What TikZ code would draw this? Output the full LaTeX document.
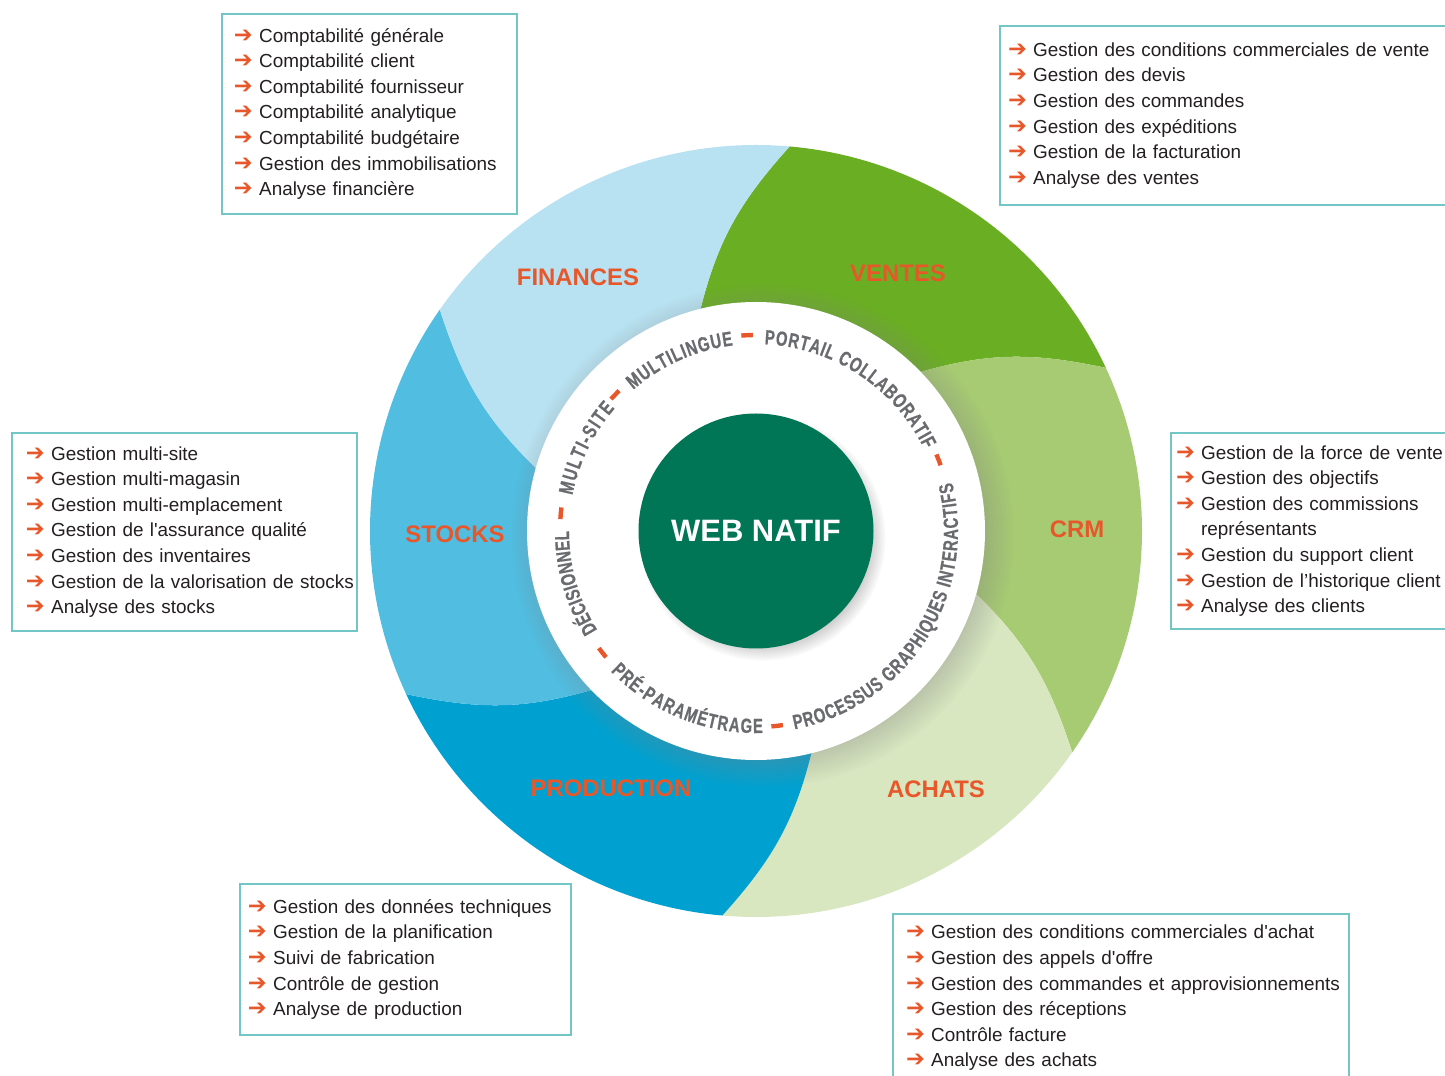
\documentclass[tikz,border=0pt]{standalone}
\usepackage{fontspec}
\setmainfont{Liberation Sans}
\newfontfamily\symfont{DejaVu Sans}
\newfontfamily\ringfont[FakeStretch=0.73, FakeBold=0.6]{Liberation Sans}
\usetikzlibrary{decorations.text,shadows,fadings}

\newlength\px
\setlength\px{0.25mm}

\definecolor{finblue}{HTML}{B8E2F2}
\definecolor{ventgreen}{HTML}{6AAE24}
\definecolor{crmgreen}{HTML}{A7CB73}
\definecolor{achgreen}{HTML}{D8E7C0}
\definecolor{prodblue}{HTML}{00A1D0}
\definecolor{stockblue}{HTML}{50BDE1}
\definecolor{webgreen}{HTML}{017657}
\definecolor{labelorange}{HTML}{E8572A}
\definecolor{ringgray}{HTML}{6A6B6E}
\definecolor{boxteal}{HTML}{72C6C5}
\definecolor{listblack}{HTML}{231F20}

\newcommand\fleche{\textcolor{labelorange}{\symfont\bfseries\fontsize{16}{16}\selectfont ➔}}
\newcommand\sq{\textquotesingle}
\newcommand\indentlist[1]{\setlength\leftskip{#1\px}}
\newcommand\ringtxt{\ringfont\bfseries\fontsize{14.5}{14.5}\selectfont}

\tikzset{
  seglabel/.style={text=labelorange, font=\bfseries\fontsize{17}{17}\selectfont},
  listbox/.style={draw=boxteal, line width=0.5mm, fill=white, anchor=north west,
    inner xsep=2\px, align=left, text=listblack,
    font=\fontsize{13.45}{18.2}\selectfont},
  ringtext/.style={decorate, decoration={text along path, text align={fit to path},
    text color=ringgray, text={|\ringtxt|#1}}},
  ringdash/.style={draw=labelorange, line width=1.1mm},
  core/.style={circle, fill=webgreen, minimum size=235\px, text=white,
    font=\bfseries\fontsize{22}{22}\selectfont}
}

\begin{document}
\begin{tikzpicture}[x=\px, y=\px]

	% ---- parameters

	\def\rout{386}
	\def\rring{229}

	\useasboundingbox (-756,-545) rectangle (689,531);
	\clip (-756,-545) rectangle (689,531);

	% ---- segments

	\foreach \k/\col in {0/ventgreen,1/crmgreen,2/achgreen,3/prodblue,4/stockblue,5/finblue} {
		\pgfmathsetmacro\ia{44-60*\k}
		\pgfmathsetmacro\ib{104-60*\k}
		\pgfmathsetmacro\oa{25-60*\k}
		\pgfmathsetmacro\ob{85-60*\k}
		\pgfmathsetmacro\ta{16-60*\k}
		\pgfmathsetmacro\tb{168-60*\k}
		\pgfmathsetmacro\tc{228-60*\k}
		\pgfmathsetmacro\td{76-60*\k}
		\fill[\col] (0,0) -- (\ia:\rring) to[out=\ta, in=\tb] (\oa:\rout)
			arc[start angle=\oa, end angle=\ob, radius=\rout]
			to[out=\tc, in=\td] (\ib:\rring) -- cycle;
	}

	% ---- segment labels

	\node[seglabel] (ventes) at (142,258) {VENTES};
	\node[seglabel] (crm) at (321,2) {CRM};
	\node[seglabel] (achats) at (180,-258) {ACHATS};
	\node[seglabel] (production) at (-145,-257) {PRODUCTION};
	\node[seglabel] (stocks) at (-301,-3) {STOCKS};
	\node[seglabel] (finances) at (-178,254) {FINANCES};

	% ---- white ring

	\fill[white, circular drop shadow={shadow xshift=1.5mm, shadow yshift=-1mm,
		shadow scale=1.1, opacity=.4}] (0,0) circle (\rring);

	% -- ring texts (clockwise, top)

	\path[ringtext=DÉCISIONNEL] (212:187) arc[start angle=212, end angle=180, radius=187];
	\path[ringtext=MULTI-SITE] (169:187) arc[start angle=169, end angle=139, radius=187];
	\path[ringtext=MULTILINGUE] (131:187) arc[start angle=131, end angle=97, radius=187];
	\path[ringtext=PORTAIL COLLABORATIF] (87.4:187) arc[start angle=87.4, end angle=25.9, radius=187];

	% -- ring texts (counter-clockwise, bottom)

	\path[ringtext=PRÉ-PARAMÉTRAGE] (224:202) arc[start angle=224, end angle=272, radius=202];
	\path[ringtext=PROCESSUS GRAPHIQUES INTERACTIFS] (281:202) arc[start angle=281, end angle=374, radius=202];

	% -- separators

	\foreach \a in {92.6,136,174.8,218.4,276.2,21.3} {
		\draw[ringdash] (\a-1.7:196) arc[start angle=\a-1.7, end angle=\a+1.7, radius=196];
	}

	% ---- core

	\node[core, circular drop shadow={shadow xshift=1.5mm, shadow yshift=-1.5mm,
		shadow scale=1.05, opacity=.45}] (webnatif) at (0,0) {WEB NATIF};

	% ---- lists

	\node[listbox, text width=291\px, minimum height=200\px] (finlist) at (-535,518)
	{\indentlist{10}\fleche~Comptabilité générale\\ \fleche~Comptabilité client\\ \fleche~Comptabilité fournisseur\\
	 \fleche~Comptabilité analytique\\ \fleche~Comptabilité budgétaire\\
	 \fleche~Gestion des immobilisations\\ \fleche~Analyse financière\par};

	\node[listbox, text width=476\px, minimum height=179\px] (ventlist) at (243,506)
	{\indentlist{6}\fleche~Gestion des conditions commerciales de vente\\ \fleche~Gestion des devis\\
	 \fleche~Gestion des commandes\\ \fleche~Gestion des expéditions\\
	 \fleche~Gestion de la facturation\\ \fleche~Analyse des ventes\par};

	\node[listbox, text width=296\px, minimum height=196\px] (crmlist) at (414,99)
	{\indentlist{3}\fleche~Gestion de la force de vente\\ \fleche~Gestion des objectifs\\
	 \fleche~Gestion des commissions\\ \hphantom{\fleche~}représentants\\
	 \fleche~Gestion du support client\\ \fleche~Gestion de l’historique client\\
	 \fleche~Analyse des clients\par};

	\node[listbox, text width=341\px, minimum height=198\px] (stocklist) at (-745,99)
	{\indentlist{12}\fleche~Gestion multi-site\\ \fleche~Gestion multi-magasin\\ \fleche~Gestion multi-emplacement\\
	 \fleche~Gestion de l\sq assurance qualité\\ \fleche~Gestion des inventaires\\
	 \fleche~Gestion de la valorisation de stocks\\ \fleche~Analyse des stocks\par};

	\node[listbox, text width=327\px, minimum height=151\px] (prodlist) at (-517,-352)
	{\indentlist{6}\fleche~Gestion des données techniques\\ \fleche~Gestion de la planification\\
	 \fleche~Suivi de fabrication\\ \fleche~Contrôle de gestion\\ \fleche~Analyse de production\par};

	\node[listbox, text width=452\px, minimum height=168\px] (achlist) at (136,-382)
	{\indentlist{11}\fleche~Gestion des conditions commerciales d\sq achat\\ \fleche~Gestion des appels d\sq offre\\
	 \fleche~Gestion des commandes et approvisionnements\\ \fleche~Gestion des réceptions\\
	 \fleche~Contrôle facture\\ \fleche~Analyse des achats\par};

\end{tikzpicture}
\end{document}
